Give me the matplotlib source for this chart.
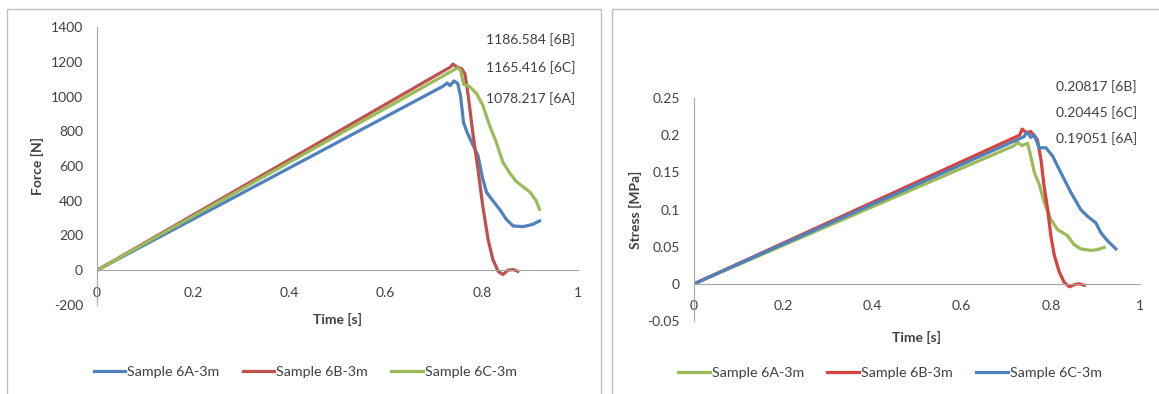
import matplotlib
matplotlib.use('Agg')
import matplotlib.pyplot as plt
from matplotlib.patches import Rectangle

plt.rcParams['font.family'] = ['Lato', 'DejaVu Sans']

# left chart: force vs time
t_6a_f = [0, 0.720, 0.728, 0.734, 0.742, 0.750, 0.756, 0.762, 0.770, 0.782, 0.792, 0.802, 0.810, 0.823, 0.837, 0.851, 0.865, 0.886, 0.906, 0.920]
f_6a = [0, 1060, 1078, 1062, 1090, 1075, 1000, 850, 790, 718, 660, 525, 448, 400, 351, 293, 255, 251, 264, 284]
t_6b_f = [0, 0.735, 0.740, 0.748, 0.758, 0.765, 0.772, 0.782, 0.792, 0.802, 0.813, 0.823, 0.834, 0.844, 0.854, 0.865, 0.875]
f_6b = [0, 1170, 1186.584, 1170, 1160, 1130, 1000, 776, 582, 370, 178, 62, -6, -25, 0, 4, -6]
t_6c_f = [0, 0.740, 0.750, 0.756, 0.762, 0.775, 0.789, 0.802, 0.816, 0.830, 0.844, 0.858, 0.872, 0.886, 0.900, 0.913, 0.920]
f_6c = [0, 1150, 1165.416, 1150, 1070, 1056, 1017, 950, 834, 737, 621, 560, 510, 480, 450, 400, 350]
peaks_f = ['1186.584 [6B]', '1165.416 [6C]', '1078.217 [6A]']

# right chart: stress vs time
t_6a_s = [0, 0.718, 0.725, 0.735, 0.748, 0.755, 0.763, 0.774, 0.785, 0.800, 0.815, 0.837, 0.852, 0.867, 0.890, 0.905, 0.920]
s_6a = [0, 0.186, 0.19051, 0.186, 0.189, 0.172, 0.150, 0.134, 0.110, 0.087, 0.073, 0.065, 0.053, 0.047, 0.045, 0.046, 0.049]
t_6b_s = [0, 0.730, 0.736, 0.745, 0.755, 0.770, 0.778, 0.785, 0.793, 0.800, 0.808, 0.819, 0.830, 0.842, 0.853, 0.864, 0.875]
s_6b = [0, 0.200, 0.20817, 0.203, 0.205, 0.194, 0.167, 0.131, 0.100, 0.065, 0.038, 0.016, 0.002, -0.004, -0.001, 0.0, -0.002]
t_6c_s = [0, 0.740, 0.747, 0.755, 0.763, 0.774, 0.789, 0.804, 0.823, 0.845, 0.867, 0.882, 0.901, 0.912, 0.927, 0.946]
s_6c = [0, 0.198, 0.20445, 0.197, 0.200, 0.183, 0.183, 0.172, 0.149, 0.123, 0.100, 0.091, 0.082, 0.069, 0.058, 0.047]
peaks_s = ['0.20817 [6B]', '0.20445 [6C]', '0.19051 [6A]']

x_ticks = [0, 0.2, 0.4, 0.6, 0.8, 1]
x_ticklabels = ['0', '0.2', '0.4', '0.6', '0.8', '1']
f_ticks = [-200, 0, 200, 400, 600, 800, 1000, 1200, 1400]
s_ticks = [-0.05, 0, 0.05, 0.1, 0.15, 0.2, 0.25]
s_ticklabels = ['-0.05', '0', '0.05', '0.1', '0.15', '0.2', '0.25']

blue = '#4F81BD'
red = '#C0504D'
green = '#9BBB59'
txt = '#404040'
axc = '#A6A6A6'
fs = 10

fig = plt.figure(figsize=(11.59, 3.94), dpi=100)

# chart frames
fig.patches.append(Rectangle((7 / 1159, -0.05), 594 / 1159, 1.05 - 9 / 394, transform=fig.transFigure,
                             fill=False, edgecolor='#BFBFBF', lw=1))
fig.patches.append(Rectangle((612 / 1159, -0.05), 560 / 1159, 1.05 - 9 / 394, transform=fig.transFigure,
                             fill=False, edgecolor='#BFBFBF', lw=1))


def style(ax, yticks, ylabels):
    ax.set_xlim(0, 1)
    ax.set_xticks(x_ticks)
    ax.set_xticklabels(x_ticklabels)
    ax.set_yticks(yticks)
    ax.set_yticklabels(ylabels)
    for s in ['top', 'right']:
        ax.spines[s].set_visible(False)
    ax.spines['bottom'].set_position(('data', 0))
    ax.spines['bottom'].set_color(axc)
    ax.spines['left'].set_color(axc)
    ax.tick_params(length=0, labelsize=fs, colors=txt)
    ax.tick_params(axis='x', pad=12)
    ax.tick_params(axis='y', pad=10)
    ax.set_facecolor('none')


leg_kw = dict(ncol=3, frameon=False, fontsize=10.3, handlelength=2.23, handletextpad=0.14,
              columnspacing=1.6, labelcolor=txt, loc='center')

ax1 = fig.add_axes([97 / 1159, 1 - 305 / 394, 481 / 1159, 278 / 394])
ax1.plot(t_6a_f, f_6a, color=blue, lw=2.3, label='Sample 6A-3m')
ax1.plot(t_6b_f, f_6b, color=red, lw=2.3, label='Sample 6B-3m')
ax1.plot(t_6c_f, f_6c, color=green, lw=2.3, label='Sample 6C-3m')
ax1.set_ylim(-200, 1400)
style(ax1, f_ticks, [str(v) for v in f_ticks])
ax1.set_xlabel('Time [s]', fontsize=fs, fontweight='bold', color=txt)
ax1.xaxis.set_label_coords(0.5, -0.029)
ax1.set_ylabel('Force [N]', fontsize=fs, fontweight='bold', color=txt)
ax1.yaxis.set_label_coords(-0.11, 0.5)
for s, yv in zip(peaks_f, [1325, 1164, 991]):
    ax1.text(0.994, yv, s, ha='right', va='center', fontsize=fs, color=txt)
ax1.legend(bbox_to_anchor=(0.433, -0.241), **leg_kw)

ax2 = fig.add_axes([694 / 1159, 1 - 321 / 394, 446 / 1159, 223 / 394])
ax2.plot(t_6a_s, s_6a, color=green, lw=2.3, label='Sample 6A-3m')
ax2.plot(t_6b_s, s_6b, color='#D9413D', lw=2.3, label='Sample 6B-3m')
ax2.plot(t_6c_s, s_6c, color=blue, lw=2.3, label='Sample 6C-3m')
ax2.set_ylim(-0.05, 0.25)
style(ax2, s_ticks, s_ticklabels)
ax2.set_xlabel('Time [s]', fontsize=fs, fontweight='bold', color=txt)
ax2.xaxis.set_label_coords(0.5, -0.045)
ax2.set_ylabel('Stress [MPa]', fontsize=fs, fontweight='bold', color=txt)
ax2.yaxis.set_label_coords(-0.117, 0.5)
for s, yv in zip(peaks_s, [0.265, 0.231, 0.196]):
    ax2.text(0.993, yv, s, ha='right', va='center', fontsize=fs, color=txt)
ax2.legend(bbox_to_anchor=(0.439, -0.233), **leg_kw)

fig.savefig('out.png', dpi=100)
